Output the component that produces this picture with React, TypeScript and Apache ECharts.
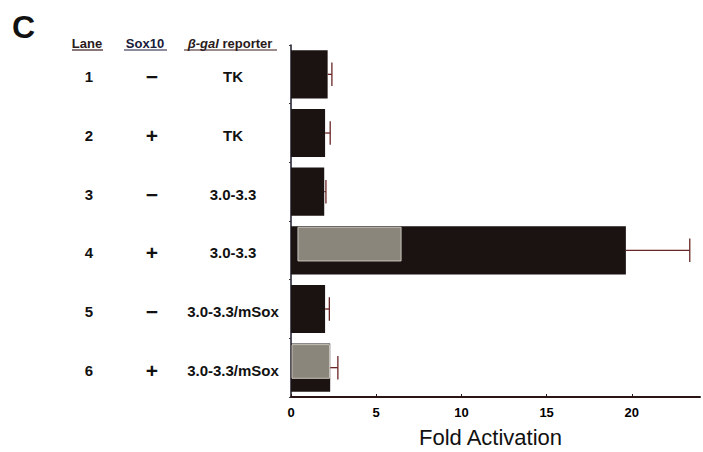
import React, { useEffect, useRef } from "react";
import * as echarts from "echarts";

const lanes = ["1", "2", "3", "4", "5", "6"];
const sox10 = ["\u2212", "+", "\u2212", "+", "\u2212", "+"];
const reporters = ["TK", "TK", "3.0-3.3", "3.0-3.3", "3.0-3.3/mSox", "3.0-3.3/mSox"];
const foldActivation = [2.15, 2.0, 1.95, 19.65, 2.0, 2.3];
const errors = [0.25, 0.3, 0.1, 3.75, 0.25, 0.45];
// grey overlay segments: [lane index, start, end]
const greyLanes = [3, 5];
const greyStart = [0.35, 0.0];
const greyEnd = [6.4, 2.2];
const xTicks = [0, 5, 10, 15, 20];
const xMax = 24;

const FONT = "'Liberation Sans', Arial, sans-serif";
const DARK = "#1b1212";

export default function App() {
  const ref = useRef<HTMLDivElement>(null);
  useEffect(() => {
    const chart = echarts.init(ref.current!, null, { renderer: "svg" });
    const barFrac = 0.82;
    chart.setOption({
      animation: false,
      backgroundColor: "#ffffff",
      grid: { left: 291, right: 3, top: 45, bottom: 55, containLabel: false, outerBoundsMode: "none" },
      xAxis: {
        type: "value",
        min: xTicks[0],
        max: xMax,
        interval: 5,
        name: "Fold Activation",
        nameLocation: "middle",
        nameGap: 29,
        nameTextStyle: { fontFamily: FONT, fontSize: 22, color: "#111", padding: [0, 10, 0, 0] },
        axisLine: { show: true, lineStyle: { color: "#2a1515", width: 2 } },
        axisTick: { show: true, inside: true, length: 3, lineStyle: { color: "#2a1515" } },
        axisLabel: {
          fontFamily: FONT,
          fontWeight: "bold",
          fontSize: 13,
          color: "#000",
          margin: 9,
          showMaxLabel: false,
          formatter: (v: number) => (xTicks.indexOf(v) >= 0 ? String(v) : ""),
        },
        splitLine: { show: false },
      },
      yAxis: {
        type: "category",
        inverse: true,
        data: lanes,
        axisLine: { show: true, lineStyle: { color: "#1a1a2a", width: 1.5 } },
        axisTick: { show: true, length: 2, lineStyle: { color: "#333" } },
        axisLabel: {
          align: "left",
          margin: 231,
          formatter: (v: string, i: number) => `{a|${v}}{b|${sox10[i]}}{c|${reporters[i]}}`,
          rich: {
            a: { width: 58, align: "center", fontFamily: FONT, fontWeight: "bold", fontSize: 15, color: "#111", padding: [5, 0, 0, 0] },
            b: { width: 68, align: "center", fontFamily: FONT, fontWeight: "bold", fontSize: 21, color: "#111", padding: [5, 0, 0, 0] },
            c: { width: 94, align: "center", fontFamily: FONT, fontWeight: "bold", fontSize: 15, color: "#111", padding: [5, 0, 0, 0] },
          },
        },
      },
      series: [
        {
          type: "bar",
          data: foldActivation,
          barWidth: "82%",
          itemStyle: { color: DARK },
          z: 2,
        },
        {
          type: "custom",
          z: 3,
          data: greyLanes.map((li, k) => [greyStart[k], greyEnd[k], li]),
          renderItem: (params: any, api: any) => {
            const p0 = api.coord([api.value(0), api.value(2)]);
            const p1 = api.coord([api.value(1), api.value(2)]);
            const bandH = api.size([0, 1])[1];
            const barH = bandH * barFrac;
            const top = p0[1] - barH / 2 + 1;
            return {
              type: "rect",
              shape: { x: p0[0] + 1, y: top, width: p1[0] - p0[0], height: barH * 0.7 },
              style: { fill: "#8b867c", stroke: "#c9c4bb", lineWidth: 1 },
            };
          },
        },
        {
          type: "custom",
          z: 4,
          data: foldActivation.map((v, i) => [v, v + errors[i], i]),
          renderItem: (params: any, api: any) => {
            const p0 = api.coord([api.value(0), api.value(2)]);
            const p1 = api.coord([api.value(1), api.value(2)]);
            const bandH = api.size([0, 1])[1];
            const cap = bandH * 0.4;
            const style = { stroke: "#6a2626", lineWidth: 1.3 };
            return {
              type: "group",
              children: [
                { type: "line", shape: { x1: p0[0], y1: p0[1], x2: p1[0], y2: p1[1] }, style },
                { type: "line", shape: { x1: p1[0], y1: p1[1] - cap / 2, x2: p1[0], y2: p1[1] + cap / 2 }, style },
              ],
            };
          },
        },
      ],
      graphic: [
        {
          type: "text",
          left: 12,
          top: 11,
          style: { text: "C", fontFamily: FONT, fontWeight: "bold", fontSize: 32, fill: "#111" },
        },
        {
          type: "text",
          x: 87,
          y: 43,
          style: { text: "Lane", align: "center", verticalAlign: "middle", fontFamily: FONT, fontWeight: "bold", fontSize: 13, fill: "#2a1a1a" },
        },
        {
          type: "text",
          x: 145,
          y: 43,
          style: { text: "Sox10", align: "center", verticalAlign: "middle", fontFamily: FONT, fontWeight: "bold", fontSize: 13, fill: "#1a1a3a" },
        },
        {
          type: "text",
          x: 230,
          y: 43,
          style: {
            text: "{i|\u03b2-gal} reporter",
            align: "center",
            verticalAlign: "middle",
            fontFamily: FONT,
            fontWeight: "bold",
            fontSize: 13,
            fill: "#2a1a1a",
            rich: { i: { fontFamily: FONT, fontWeight: "bold", fontStyle: "italic", fontSize: 13, fill: "#2a1a1a" } },
          },
        },
        { type: "line", shape: { x1: 72, y1: 50, x2: 103, y2: 50 }, style: { stroke: "#3a1a1a", lineWidth: 1.2 } },
        { type: "line", shape: { x1: 124, y1: 50, x2: 167, y2: 50 }, style: { stroke: "#1a1a3a", lineWidth: 1.2 } },
        { type: "line", shape: { x1: 184, y1: 50, x2: 277, y2: 50 }, style: { stroke: "#3a1a1a", lineWidth: 1.2 } },
      ],
    });
    return () => chart.dispose();
  }, []);
  return <div ref={ref} style={{ width: 703, height: 452, position: "absolute", left: 0, top: 0 }} />;
}
